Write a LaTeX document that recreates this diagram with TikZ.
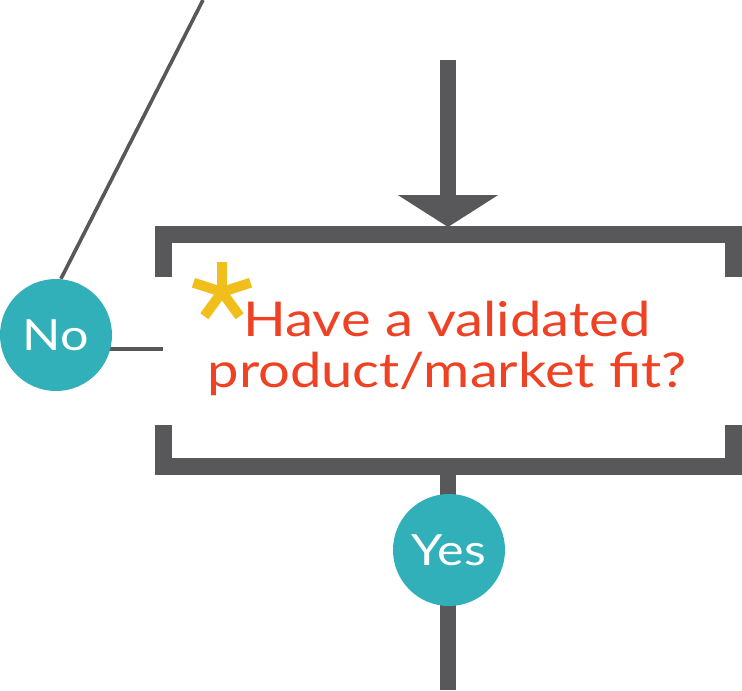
\documentclass[tikz,border=0pt]{standalone}
\usepackage{fontspec}
\setmainfont{Lato}[FakeStretch=1.17]
\usetikzlibrary{arrows.meta, backgrounds}
\definecolor{flowgrey}{HTML}{58585A}
\definecolor{flowteal}{HTML}{31B0B9}
\definecolor{flowred}{HTML}{EF4123}
\definecolor{flowgold}{HTML}{F1BF1B}

\begin{document}
\begin{tikzpicture}[x=0.5pt, y=-0.5pt,
            answer/.style = {circle, fill=flowteal, minimum size=56pt, inner sep=0pt, text=white, font=\fontsize{21.5}{21.5}\selectfont},
            question/.style = {align=center, text=flowred, font=\fontsize{24}{25.5}\selectfont},
            bracket/.style = {draw=flowgrey, line width=8.5pt, line join=miter},
            flow/.style = {draw=flowgrey, line width=8pt},
            branch/.style = {draw=flowgrey, line width=1.8pt},
        ]
            \useasboundingbox (0,0) rectangle (742,690);

            % Question and the two answers
            \node[question] (question) at (447,348) {Have a validated\\product/market fit?};
            \node[answer] (no) at (56,335) {No};
            \node[answer] (yes) at (449,550) {Yes};

            % Free ends of the connectors
            \coordinate (entry) at (448,60);
            \coordinate (entrytip) at (448,227);
            \coordinate (stem) at (448,475);
            \coordinate (exit) at (448,690);
            \coordinate (notop) at (203,0);
            \coordinate (nostub) at (163,349);
            \coordinate (star) at (222,292);

            % Brackets round the question
            \draw[bracket] (163.5,277) -- (163.5,234.5) -- (733.5,234.5) -- (733.5,277);
            \draw[bracket] (163.5,425) -- (163.5,466.5) -- (733.5,466.5) -- (733.5,425);

            % Incoming arrow
            \draw[flow, -{Triangle[width=49.5pt, length=16pt]}] (entry) -- (entrytip);

            % Lines behind the answers
            \begin{scope}[on background layer]
                \draw[flow] (stem) -- (exit);
                \draw[branch] (notop) -- (no.85);
                \draw[branch] (nostub) -- (nostub -| no.center);
            \end{scope}

            % Asterisk
            \foreach \a in {-90,-18,54,126,198}
                \draw[flowgold, line width=5pt] (star) -- ++(\a:30);
        \end{tikzpicture}
\end{document}
